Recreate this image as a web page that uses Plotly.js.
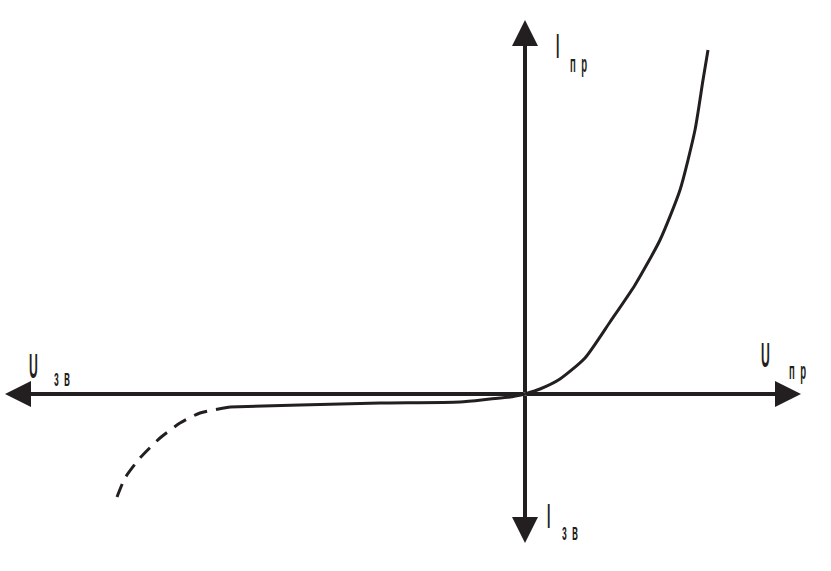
<!DOCTYPE html>
<html>
<head>
<meta charset="utf-8">
<script src="https://cdn.plot.ly/plotly-3.0.1.min.js"></script>
<style>
html,body{margin:0;padding:0;background:#fff;}
#chart{width:831px;height:571px;}
.annotation-text-g text{transform-box:fill-box;transform-origin:0% 50%;}
</style>
</head>
<body>
<div id="chart"></div>
<script>
// Forward branch (U пр, I пр), schematic units
const fwdU = [0, 15, 35, 60, 85, 110, 135, 155, 170, 178, 183];
const fwdI = [0, 5, 15, 36, 72, 109, 154, 204, 264, 314, 344];
// Reverse branch, solid part
const revU = [0, -15, -35, -65, -145, -225, -295];
const revI = [0, -3, -5, -8, -9, -11, -13];
// Reverse branch, breakdown (dashed)
const brkU = [-295, -325, -345, -365, -385, -400, -408];
const brkI = [-13, -19, -29, -44, -64, -84, -103];
// Axis extents and labels
const axisX = [-520, 276];
const axisY = [-149, 374];
const mainLabels = ['I', 'U', 'U', 'I'];
const subLabels = ['п  р', 'п  р', 'з  в', 'з  в'];

const ink = '#231f20';
const lineStyle = {color: ink, width: 3, shape: 'spline', smoothing: 0.6};

const traces = [
  {x: fwdU, y: fwdI, mode: 'lines', line: lineStyle, hoverinfo: 'skip'},
  {x: revU, y: revI, mode: 'lines', line: lineStyle, hoverinfo: 'skip'},
  {x: brkU, y: brkI, mode: 'lines', line: Object.assign({}, lineStyle, {dash: '14px,9px'}), hoverinfo: 'skip'}
];

function arrow(x, y) {
  return {x: x, y: y, ax: 0, ay: 0, xref: 'x', yref: 'y', axref: 'x', ayref: 'y',
    text: '', showarrow: true, arrowhead: 2, arrowsize: 1.3, arrowwidth: 4, arrowcolor: ink};
}
const font = 'Liberation Sans, Arial, sans-serif';
function lbl(text, x, y, size) {
  return {x: x, y: y, xref: 'x', yref: 'y', text: '<b>' + text + '</b>', showarrow: false,
    xanchor: 'left', yanchor: 'middle', font: {family: font, size: size, color: ink}};
}
const annotations = [
  arrow(axisX[1], 0), arrow(axisX[0], 0), arrow(0, axisY[1]), arrow(0, axisY[0]),
  lbl(mainLabels[0], 29, 349, 36), lbl(subLabels[0], 43, 331, 24),
  lbl(mainLabels[1], 234, 40, 36), lbl(subLabels[1], 262, 24, 24),
  lbl(mainLabels[2], -498, 29, 36), lbl(subLabels[2], -473, 17, 24),
  lbl(mainLabels[3], 20, -121, 36), lbl(subLabels[3], 35, -137, 24)
];

const layout = {
  width: 831, height: 571,
  margin: {l: 0, r: 0, t: 0, b: 0},
  paper_bgcolor: '#fff', plot_bgcolor: '#fff',
  showlegend: false,
  xaxis: {range: [-525, 306], visible: false, fixedrange: true},
  yaxis: {range: [-177, 394], visible: false, fixedrange: true},
  annotations: annotations
};
Plotly.newPlot('chart', traces, layout, {displayModeBar: false, staticPlot: true}).then(function () {
  document.querySelectorAll('.annotation-text-g text').forEach(function (t) {
    const s = parseFloat(t.style.fontSize || '0');
    if (s >= 30) t.style.transform = 'scaleX(0.34)';
    else if (s > 0) t.style.transform = 'scaleX(0.40)';
  });
});
</script>
</body>
</html>
